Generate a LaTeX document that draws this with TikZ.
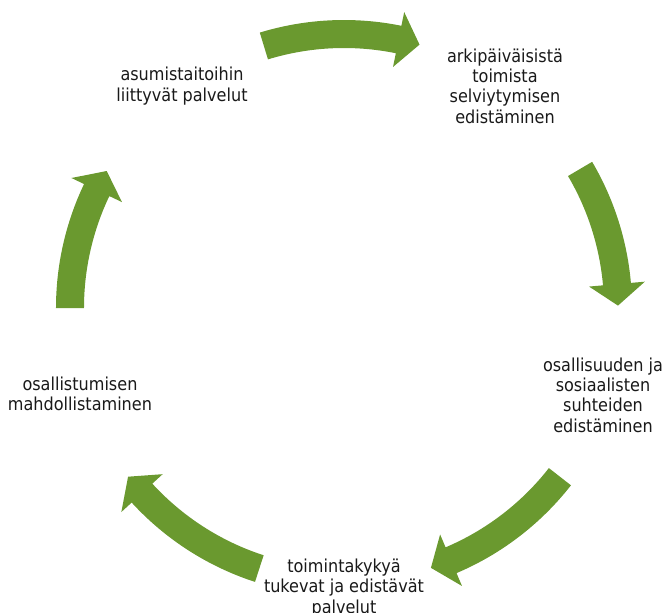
\documentclass[tikz,border=0pt]{standalone}
\usepackage{fontspec}
\setmainfont{DejaVu Sans Condensed}
\usepackage{tikz}
\definecolor{cycgreen}{RGB}{106,153,47}
\tikzstyle{lbl} = [align=center, inner sep=0pt, text=black!90, font=\fontsize{13.4}{15.2}\selectfont]
\tikzstyle{cyc} = [fill=cycgreen, draw=none]

\begin{document}
\begin{tikzpicture}[x=0.75pt,y=0.75pt]
    \useasboundingbox (-344,-304) rectangle (325,308);
    \node (asum) [lbl] at (-162,222) {asumistaitoihin\\liittyvät palvelut};
    \node (arki) [lbl] at (161,222) {arkipäiväisistä\\toimista\\selviytymisen\\edistäminen};
    \node (osal) [lbl] at (259,-87) {osallisuuden ja\\sosiaalisten\\suhteiden\\edistäminen};
    \node (toim) [lbl] at (0,-280) {toimintakykyä\\tukevat ja edistävät\\palvelut};
    \node (osst) [lbl] at (-264,-86) {osallistumisen\\mahdollistaminen};
    % cycle arrows
    \fill[cyc] (107:288) arc[start angle=107, end angle=78.5, radius=288] -- (78.5:302) -- (74:274) -- (78.5:246) -- (78.5:260) arc[start angle=78.5, end angle=107, radius=260] -- cycle;
    \fill[cyc] (30.5:288) arc[start angle=30.5, end angle=5, radius=288] -- (5:302) -- (0.5:274) -- (5:246) -- (5:260) arc[start angle=5, end angle=30.5, radius=260] -- cycle;
    \fill[cyc] (-38:288) arc[start angle=-38, end angle=-67, radius=288] -- (-67:302) -- (-71.5:274) -- (-67:246) -- (-67:260) arc[start angle=-67, end angle=-38, radius=260] -- cycle;
    \fill[cyc] (-108:288) arc[start angle=-108, end angle=-137.5, radius=288] -- (-137.5:302) -- (-142:274) -- (-137.5:246) -- (-137.5:260) arc[start angle=-137.5, end angle=-108, radius=260] -- cycle;
    \fill[cyc] (180:288) arc[start angle=180, end angle=154.5, radius=288] -- (154.5:302) -- (150:274) -- (154.5:246) -- (154.5:260) arc[start angle=154.5, end angle=180, radius=260] -- cycle;
\end{tikzpicture}
\end{document}
